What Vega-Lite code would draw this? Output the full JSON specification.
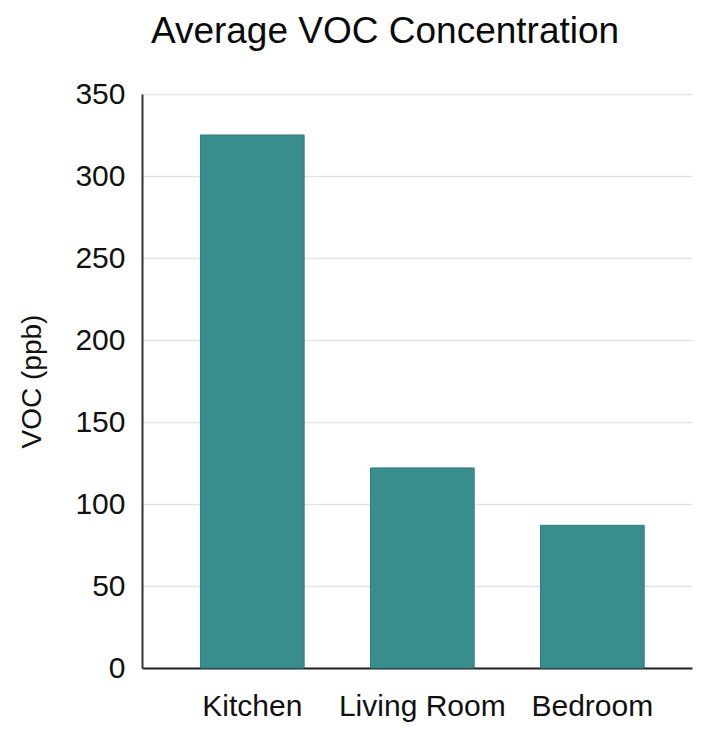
{
  "$schema": "https://vega.github.io/schema/vega-lite/v6.json",
  "autosize": {"type": "none"},
  "width": 550,
  "height": 574,
  "padding": {"left": 142, "top": 94, "right": 20, "bottom": 61},
  "background": "white",
  "title": {
    "text": "Average VOC Concentration",
    "anchor": "middle",
    "frame": "group",
    "dx": -32,
    "fontSize": 37,
    "font": "Liberation Sans",
    "fontWeight": "normal",
    "color": "#0a0a0a",
    "offset": 28
  },
  "data": {
    "values": [
      {"room": "Kitchen", "voc": 325},
      {"room": "Living Room", "voc": 122},
      {"room": "Bedroom", "voc": 87}
    ]
  },
  "mark": {"type": "bar", "color": "#3a8d8d", "stroke": "#2f7c7c", "strokeWidth": 1},
  "encoding": {
    "x": {
      "field": "room",
      "type": "nominal",
      "sort": null,
      "scale": {"paddingInner": 0.39, "paddingOuter": 0.3125, "align": 0.55},
      "axis": {
        "title": null,
        "labelAngle": 0,
        "labelFontSize": 30,
        "labelFont": "Liberation Sans",
        "labelColor": "#111111",
        "labelPadding": 23,
        "ticks": false,
        "domainColor": "#222222",
        "domainWidth": 2,
        "grid": false
      }
    },
    "y": {
      "field": "voc",
      "type": "quantitative",
      "scale": {"domain": [0, 350], "nice": false},
      "axis": {
        "title": "VOC (ppb)",
        "titleFontSize": 28,
        "titleFont": "Liberation Sans",
        "titleFontWeight": "normal",
        "titleColor": "#111111",
        "titlePadding": 28,
        "values": [0, 50, 100, 150, 200, 250, 300, 350],
        "labelFontSize": 30,
        "labelFont": "Liberation Sans",
        "labelColor": "#111111",
        "labelPadding": 17,
        "ticks": false,
        "domainColor": "#333333",
        "domainWidth": 2,
        "gridColor": "#e3e3e3",
        "gridWidth": 1.5
      }
    }
  },
  "config": {"view": {"stroke": null}}
}
